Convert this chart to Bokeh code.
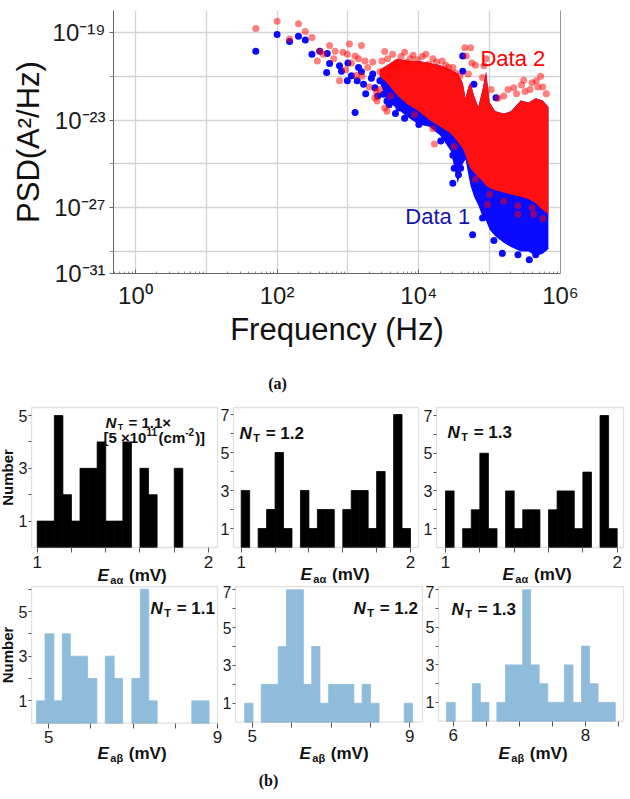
import math
from bokeh.plotting import figure
from bokeh.models import Range1d, FixedTicker, Label, LogAxis, BoxAnnotation
from bokeh.layouts import column, row
from bokeh.embed import file_html
from bokeh.resources import INLINE

FONT = "Liberation Sans"

# ---------------- (a) PSD data ----------------
d1_freq = [50, 100, 150, 200, 250, 310, 400, 510, 550, 500, 760, 810, 980, 1120, 1260,
           1350, 1550, 1660, 2140, 2400, 3160, 3550, 4370, 5250, 6300, 7240, 10000, 11500,
           14800, 19000, 20400, 24500, 28200, 30200, 31600, 30200, 36300, 38900, 41700,
           41700, 60000, 57500, 79400, 69000, 89000, 123000, 115000, 151000, 195000,
           251000, 324000, 363000, 447000, 479000, 1780, 2630, 3800, 4680, 1000, 1410,
           2240, 2820]
d1_psd = [1.4e-20, 8e-20, 3.9e-20, 6.6e-20, 4.5e-20, 1e-20, 1.4e-20, 1.1e-20, 3.8e-21,
          1.5e-21, 3e-21, 1.7e-21, 6.2e-22, 1.05e-21, 2.2e-23, 6.2e-22, 1.6e-21, 4.3e-22,
          8.1e-22, 3e-22, 1.5e-22, 7.4e-23, 7.4e-23, 3.6e-23, 1.2e-23, 2.6e-23, 6.3e-24,
          8.9e-24, 1.3e-23, 4.5e-24, 1.1e-24, 3.2e-24, 8e-25, 2.5e-25, 6.3e-26, 1.3e-26,
          3.2e-26, 6.3e-26, 8.5e-21, 1.7e-21, 4.3e-22, 5.8e-29, 3.4e-28, 8e-27, 1.9e-27,
          1.05e-22, 3.2e-29, 8.3e-30, 3.2e-29, 7.1e-30, 3.6e-23, 4.2e-30, 7.1e-30, 5.8e-29,
          1.6e-22, 1.26e-22, 5e-23, 2e-23, 4e-21, 2.5e-21, 1.26e-21, 6.3e-22]

d2_freq = [50, 100, 150, 200, 250, 310, 400, 370, 550, 660, 760, 980, 1050, 1260, 1550,
           1740, 2400, 2570, 3300, 3300, 5250, 6760, 8700, 13800, 16600, 26300, 44700,
           46800, 83000, 79400, 182000, 219000, 302000, 372000, 479000, 93000, 251000,
           417000, 450, 630, 850, 1120, 1410, 1900, 2240, 2820, 3020, 3800, 4170, 1580,
           2000, 2820, 3980, 930, 1320, 158000, 282000, 398000, 562000, 631000, 63000,
           53700, 15800, 31600, 63100, 100000, 158000, 251000, 398000, 562000,
           3630, 4270, 4790, 5620, 6310, 7590, 8320, 9550, 11200, 12600, 15800, 17800,
           21400, 24000, 30200, 33100, 38000, 50100, 56200, 89100, 105000, 132000, 240000,
           316000, 457000, 525000, 2510, 3550]
d2_psd = [1.5e-19, 3.2e-19, 5e-20, 2.5e-19, 1.1e-19, 5.9e-20, 1.4e-20, 5e-21, 2.5e-20,
          1.4e-20, 6.3e-22, 1e-20, 3e-20, 8.5e-21, 2.5e-20, 5e-21, 1.05e-22, 7.4e-23,
          1.35e-20, 3.6e-23, 3e-21, 4.3e-21, 1.8e-23, 3.5e-21, 8e-25, 2.5e-21, 2e-20,
          8.5e-21, 3e-21, 8.7e-22, 2.5e-22, 3e-22, 6.6e-22, 2.5e-22, 3.2e-22, 1.4e-27,
          5e-28, 5e-28, 1e-20, 6.3e-21, 1.26e-20, 4e-21, 6.3e-21, 2.5e-21, 4.5e-21,
          1.6e-21, 5e-21, 1e-21, 2.5e-21, 1e-21, 3.2e-22, 2.5e-22, 1.26e-22, 2e-21,
          1.1e-21, 1.26e-22, 4e-22, 5e-22, 3.2e-22, 1.6e-22, 3.2e-21, 2e-20, 4e-24,
          6.3e-25, 2e-26, 4e-27, 2e-27, 1.26e-27, 1e-27, 3.2e-28,
          6.3e-21, 1e-20, 4e-21, 8e-21, 1.26e-20, 6.3e-21, 9e-21, 5.6e-21, 8e-21, 1e-20,
          6.3e-21, 4.5e-21, 5e-21, 3.2e-21, 2.5e-21, 1.4e-21, 1e-21, 1.26e-21, 4e-21,
          6.3e-21, 2.5e-22, 1e-22, 1.6e-22, 2e-22, 6.3e-22, 1e-21, 2e-22, 2.5e-23]

# dense part of the clouds (edges)
band_freq = [2820, 3550, 5010, 7080, 10000, 14100, 20000, 28200, 35500, 41700, 45700,
             50100, 53700, 60300, 69200, 79400, 89100, 100000, 120000, 158000, 200000,
             275000, 355000, 447000, 562000, 676000]
d2_band_hi = [2e-21, 3.2e-21, 6.3e-21, 5e-21, 5e-21, 4e-21, 3.2e-21, 2e-21, 1.3e-21, 5e-22,
              1e-22, 3.2e-22, 5e-22, 1.3e-22, 4e-23, 2.5e-22, 1.6e-21, 6.3e-23, 2.5e-23,
              2e-23, 2.5e-23, 7.9e-23, 6.3e-23, 1e-22, 7.9e-23, 4e-23]
d2_band_lo = [1e-21, 5e-22, 1.3e-22, 5e-23, 2.5e-23, 1e-23, 5e-24, 2.5e-24, 1e-24, 5e-25,
              2.5e-25, 1e-25, 6.3e-26, 4e-26, 2.5e-26, 1.6e-26, 1e-26, 7.9e-27, 6.3e-27,
              5e-27, 4e-27, 3.2e-27, 2.5e-27, 1.6e-27, 7.9e-28, 5e-28]
d1_band_lo = [5e-22, 7.9e-23, 3.2e-23, 1.3e-23, 6.3e-24, 5e-24, 2e-24, 4e-25, 1.3e-26,
              1e-25, 1.6e-25, 3.2e-26, 1e-26, 3.2e-27, 1.3e-27, 4e-28, 2.5e-28, 1e-28,
              5e-29, 2.5e-29, 1.6e-29, 1e-29, 1e-29, 6.3e-30, 7.9e-30, 1.3e-29]

x_ticks = [1, 1e2, 1e4, 1e6]
x_tick_labels = ["10⁰", "10²", "10⁴", "10⁶"]
y_ticks = [1e-30, 1e-27, 1e-23, 1e-19]
y_tick_labels = ["10⁻³¹", "10⁻²⁷", "10⁻²³", "10⁻¹⁹"]

# ---------------- (b) histogram data ----------------
ea_edges_11 = [1.00, 1.05, 1.10, 1.15, 1.20, 1.25, 1.30, 1.35, 1.40, 1.45, 1.50, 1.55,
               1.60, 1.65, 1.70, 1.75, 1.80, 1.85]
ea_counts_11 = [1, 1, 5, 2, 1, 3, 3, 4, 1, 1, 4, 0, 3, 2, 0, 0, 3]
ea_edges_12 = [1.00, 1.05, 1.10, 1.15, 1.20, 1.25, 1.30, 1.35, 1.40, 1.45, 1.50, 1.55,
               1.60, 1.65, 1.70, 1.75, 1.80, 1.85, 1.90, 1.95, 2.00]
ea_counts_12 = [3, 0, 1, 2, 5, 1, 0, 3, 1, 2, 2, 0, 2, 3, 3, 1, 4, 0, 7, 1]
ea_edges_13 = [1.00, 1.05, 1.10, 1.15, 1.20, 1.25, 1.30, 1.35, 1.40, 1.45, 1.50, 1.55,
               1.60, 1.65, 1.70, 1.75, 1.80, 1.85, 1.90, 1.95, 2.00]
ea_counts_13 = [3, 0, 1, 2, 5, 1, 0, 3, 1, 2, 2, 0, 2, 3, 3, 1, 4, 0, 7, 1]

eb_edges_11 = [4.71, 4.91, 5.12, 5.32, 5.51, 5.72, 5.92, 6.14, 6.34, 6.55, 6.75, 6.97,
               7.17, 7.37, 7.57, 7.77, 7.98, 8.18, 8.39, 8.59, 8.80]
eb_counts_11 = [1, 4, 1, 4, 3, 3, 2, 0, 3, 2, 0, 2, 6, 1, 0, 0, 0, 0, 1, 1]
eb_edges_12 = [4.81, 5.02, 5.23, 5.45, 5.66, 5.87, 6.08, 6.30, 6.51, 6.72, 6.94, 7.15,
               7.36, 7.58, 7.79, 8.00, 8.22, 8.43, 8.64, 8.86, 9.07]
eb_counts_12 = [1, 0, 2, 2, 4, 7, 7, 2, 4, 1, 2, 2, 2, 1, 2, 1, 0, 0, 0, 1]
eb_edges_13 = [5.90, 6.03, 6.16, 6.29, 6.41, 6.54, 6.66, 6.79, 6.92, 7.05, 7.17, 7.30,
               7.43, 7.55, 7.68, 7.81, 7.94, 8.06, 8.19, 8.32, 8.45]
eb_counts_13 = [1, 0, 0, 2, 1, 0, 1, 3, 3, 7, 3, 2, 1, 1, 3, 1, 4, 2, 1, 1]

nt_labels = ["1.1", "1.2", "1.3"]

# ---------------- text helpers ----------------
W = {' ': 0.278, '=': 0.584, '.': 0.278, '×': 0.584, '[': 0.333, ']': 0.333, '(': 0.333,
     ')': 0.333, 'c': 0.556, 'm': 0.889, '-': 0.333, 'N': 0.722, 'T': 0.611, 'E': 0.667,
     'a': 0.556, 'α': 0.62, 'β': 0.6, 'V': 0.667}


def tw(s, size):
    return sum(W.get(ch, 0.556) for ch in s) * size


def rich(p, x, y, pieces, color="#111111"):
    off = 0.0
    for text, size, style, dy in pieces:
        lead = len(text) - len(text.lstrip(" "))
        off += lead * W[' '] * size
        body = text.lstrip(" ")
        p.add_layout(Label(x=x, y=y, x_offset=off, y_offset=dy, text=body,
                           text_font=FONT, text_font_size=f"{size}px",
                           text_font_style=style, text_color=color,
                           text_baseline="alphabetic", text_align="left"))
        off += tw(body, size) + (1.5 if "italic" in style else 0) + (1.0 if dy else 0)


# ---------------- (a) figure ----------------
top = figure(width=630, height=352, x_axis_type="log", y_axis_type="log",
             x_range=Range1d(0.49, 1.001e6), y_range=Range1d(0.999e-30, 1e-18),
             min_border_left=113, min_border_right=70, min_border_top=10,
             min_border_bottom=79, output_backend="svg", toolbar_location=None)
top.outline_line_color = None
top.background_fill_color = "white"

top.varea(x=band_freq, y1=d1_band_lo, y2=d2_band_hi, fill_color="#0a0aff", fill_alpha=1.0)
top.scatter(x=d1_freq, y=d1_psd, size=7, fill_color="#0a0aff", line_color=None)
top.varea(x=band_freq, y1=d2_band_lo, y2=d2_band_hi, fill_color="#ff1010", fill_alpha=1.0)
top.scatter(x=d2_freq, y=d2_psd, size=7, fill_color="#ff0000", fill_alpha=0.5,
            line_color=None)

minor_x = [k * 10 ** d for d in range(-1, 6) for k in range(2, 10)]
top.xaxis.ticker = FixedTicker(ticks=x_ticks, minor_ticks=minor_x)
top.xaxis.major_label_overrides = dict(zip(x_ticks, x_tick_labels))
top.yaxis.ticker = FixedTicker(ticks=y_ticks, minor_ticks=[1e-29, 1e-25, 1e-21])
top.yaxis.major_label_overrides = dict(zip(y_ticks, y_tick_labels))
top.xgrid.ticker = FixedTicker(ticks=[1, 10, 100, 1e3, 1e4, 1e5])
top.ygrid.ticker = FixedTicker(ticks=[1e-29, 1e-27, 1e-25, 1e-23, 1e-21, 1e-19])
top.grid.grid_line_color = "#d3d3d3"
top.grid.grid_line_width = 1.3

for ax in (top.xaxis, top.yaxis):
    ax.axis_line_color = "#666666"
    ax.major_tick_line_color = "#666666"
    ax.minor_tick_line_color = "#888888"
    ax.major_label_text_font = FONT
    ax.major_label_text_font_size = "24px"
    ax.major_label_text_color = "#1a1a1a"
    ax.axis_label_text_font = FONT
    ax.axis_label_text_font_size = "31px"
    ax.axis_label_text_font_style = "normal"
    ax.axis_label_text_color = "#111111"

top.xaxis.axis_label = "Frequency (Hz)"
top.xaxis.major_tick_in = 4
top.xaxis.major_tick_out = 0
top.xaxis.minor_tick_in = 2
top.xaxis.minor_tick_out = 0
top.xaxis.major_label_standoff = 8
top.xaxis.axis_label_standoff = 0

top.yaxis.axis_label = "PSD(A²/Hz)"
top.yaxis.major_tick_in = 0
top.yaxis.major_tick_out = 4
top.yaxis.minor_tick_in = 0
top.yaxis.minor_tick_out = 4
top.yaxis.major_label_standoff = 4
top.yaxis.axis_label_standoff = 4

right_axis = LogAxis(ticker=FixedTicker(ticks=[]), axis_line_color="#999999",
                     major_tick_line_color=None, minor_tick_line_color=None,
                     major_label_text_font_size="0px")
top.add_layout(right_axis, "right")

top.add_layout(Label(x=10 ** 4.87, y=10 ** -20.2, text="Data 2", text_color="#ff0000",
                     text_font=FONT, text_font_size="22px", text_baseline="alphabetic"))
top.add_layout(Label(x=10 ** 3.81, y=10 ** -27.42, text="Data 1", text_color="#1414aa",
                     text_font=FONT, text_font_size="22px", text_baseline="alphabetic"))


# ---------------- (b) figures ----------------
def panel(canvas, box, xcal, ycal, edges, counts, color, xt, xminor, yt, yminor,
          ylabel=None):
    """canvas/box are page pixel rectangles (x0, y0, x1, y1); the frame fills the canvas
    and the histogram box is drawn inside it with fixed-location axes."""
    cx0, cy0, cx1, cy1 = canvas
    bx0, by0, bx1, by1 = box
    v1, p1_, v2, p2_ = xcal
    sx = (p2_ - p1_) / (v2 - v1)
    xa = v1 - (p1_ - bx0) / sx
    xb = v1 + (bx1 - p1_) / sx
    vy, py = ycal
    sy = (by1 - py) / vy
    yt_box = (by1 - by0) / sy
    xr = (xa - (bx0 - cx0) / sx, xb + (cx1 - bx1) / sx)
    yr = (-(cy1 - by1) / sy, yt_box + (by0 - cy0) / sy)
    p = figure(width=cx1 - cx0, height=cy1 - cy0, x_range=Range1d(*xr), y_range=Range1d(*yr),
               min_border=0, output_backend="svg", toolbar_location=None)
    p.grid.visible = False
    p.outline_line_color = None
    left = [edges[i] for i in range(len(counts)) if counts[i] > 0]
    right = [edges[i + 1] for i in range(len(counts)) if counts[i] > 0]
    tops = [c for c in counts if c > 0]
    p.quad(left=left, right=right, top=tops, bottom=0, fill_color=color,
           line_color=color, line_width=0.8)
    p.add_layout(BoxAnnotation(left=xa, right=xb, bottom=0, top=yt_box, fill_color=None,
                               fill_alpha=0, line_color="#9a9a9a", line_width=1.3))
    p.xaxis.fixed_location = 0
    p.yaxis.fixed_location = xa
    p.xaxis.bounds = (xa, xb)
    p.yaxis.bounds = (0, yt_box)
    p.xaxis.ticker = FixedTicker(ticks=xt, minor_ticks=xminor)
    p.yaxis.ticker = FixedTicker(ticks=yt, minor_ticks=yminor)
    for ax in (p.xaxis, p.yaxis):
        ax.axis_line_color = None
        ax.major_tick_line_color = "#555555"
        ax.minor_tick_line_color = "#555555"
        ax.major_tick_in = 0
        ax.minor_tick_in = 0
        ax.major_label_text_font = FONT
        ax.major_label_text_color = "#1a1a1a"
    p.xaxis.major_label_text_font_size = "17px"
    p.yaxis.major_label_text_font_size = "16px"
    p.xaxis.major_tick_out = 5
    p.xaxis.minor_tick_out = 5
    p.xaxis.major_label_standoff = 3
    p.yaxis.major_tick_out = 3
    p.yaxis.minor_tick_out = 3
    p.yaxis.major_label_standoff = 1
    if ylabel:
        p.yaxis.axis_label = ylabel
        p.yaxis.axis_label_text_font = FONT
        p.yaxis.axis_label_text_font_size = "15px"
        p.yaxis.axis_label_text_font_style = "bold"
        p.yaxis.axis_label_text_color = "#111111"
        p.yaxis.axis_label_standoff = 0

    def to_data(px, py_):
        return xa + (px - bx0) / sx, (by1 - py_) / sy
    return p, to_data


BLACK = "#000000"
BLUE = "#8fbcdb"

p1, t1 = panel((0, 352, 219, 585), (31, 407, 217, 547), (1, 36.7, 2, 208), (5, 415),
               ea_edges_11, ea_counts_11, BLACK, [1, 2], [1.2, 1.4, 1.6, 1.8], [1, 3, 5], [2, 4],
               ylabel="Number")
p2, t2 = panel((219, 352, 420, 585), (233, 407, 418, 547), (1, 240.7, 2, 410), (7, 414),
               ea_edges_12, ea_counts_12, BLACK, [1, 2], [1.2, 1.4, 1.6, 1.8], [1, 3, 5, 7],
               [2, 4, 6])
p3, t3 = panel((420, 352, 630, 585), (436, 407, 623, 547), (1, 445, 2, 616.7), (7, 415),
               ea_edges_13, ea_counts_13, BLACK, [1, 2], [1.2, 1.4, 1.6, 1.8], [1, 3, 5, 7],
               [2, 4, 6])
p4, t4 = panel((0, 585, 223, 795), (31, 586, 217, 722.7), (5, 48.3, 9, 217), (5, 611),
               eb_edges_11, eb_counts_11, BLUE, [5, 9], [6, 7, 8], [1, 3, 5], [2, 4, 6],
               ylabel="Number")
p5, t5 = panel((223, 585, 424, 795), (235, 586, 422, 721.7), (5, 251.7, 9, 409.3),
               (7, 589.3), eb_edges_12, eb_counts_12, BLUE, [5, 9], [6, 7, 8], [1, 3, 5, 7],
               [2, 4, 6])
p6, t6 = panel((424, 585, 630, 795), (438, 586, 623, 720.7), (6, 452.7, 8, 585),
               (7, 589.3), eb_edges_13, eb_counts_13, BLUE, [6, 8], [6.5, 7, 7.5, 8.5],
               [1, 3, 5, 7], [2, 4, 6])


def nt(p, t, px, py, label, size=17, suffix=""):
    x, y = t(px, py)
    rich(p, x, y, [("N", size, "bold italic", 0), ("T", size - 6, "bold", -4),
                   (" = " + label + suffix, size, "bold", 0)])


nt(p1, t1, 105, 422, nt_labels[0], size=15, suffix="×")
x, y = t1(103, 437)
rich(p1, x, y, [("[5 ×10", 15, "bold", 0), ("11", 10, "bold", 6),
                ("(cm", 15, "bold", 0), ("-2", 10, "bold", 6), (")]", 15, "bold", 0)])
nt(p2, t2, 239, 433, nt_labels[1])
nt(p3, t3, 447, 432, nt_labels[2])
nt(p4, t4, 150, 608, nt_labels[0])
nt(p5, t5, 353, 608, nt_labels[1])
nt(p6, t6, 451, 609, nt_labels[2])

# x axis titles
for p, t, px, py, sub in [(p1, t1, 97, 575, "aα"), (p2, t2, 300, 574, "aα"),
                          (p3, t3, 502, 574, "aα"), (p4, t4, 97, 753, "aβ"),
                          (p5, t5, 299, 753, "aβ"), (p6, t6, 498, 753, "aβ")]:
    x, y = t(px, py)
    rich(p, x, y, [("E", 17, "bold italic", 0), (sub, 11, "bold", -4), (" (mV)", 17, "bold", 0)])

# panel captions
x, y = t2(277, 383)
p2.add_layout(Label(x=x, y=y, text="(a)", text_color="#111111",
                    text_font="Liberation Serif", text_font_size="16px",
                    text_font_style="bold", text_align="center", text_baseline="middle"))
x, y = t5(268, 780)
p5.add_layout(Label(x=x, y=y, text="(b)", text_color="#111111",
                    text_font="Liberation Serif", text_font_size="16px",
                    text_font_style="bold", text_align="center", text_baseline="middle"))

layout = column(top, row(p1, p2, p3), row(p4, p5, p6))

with open("out.html", "w") as f:
    f.write(file_html(layout, INLINE))
